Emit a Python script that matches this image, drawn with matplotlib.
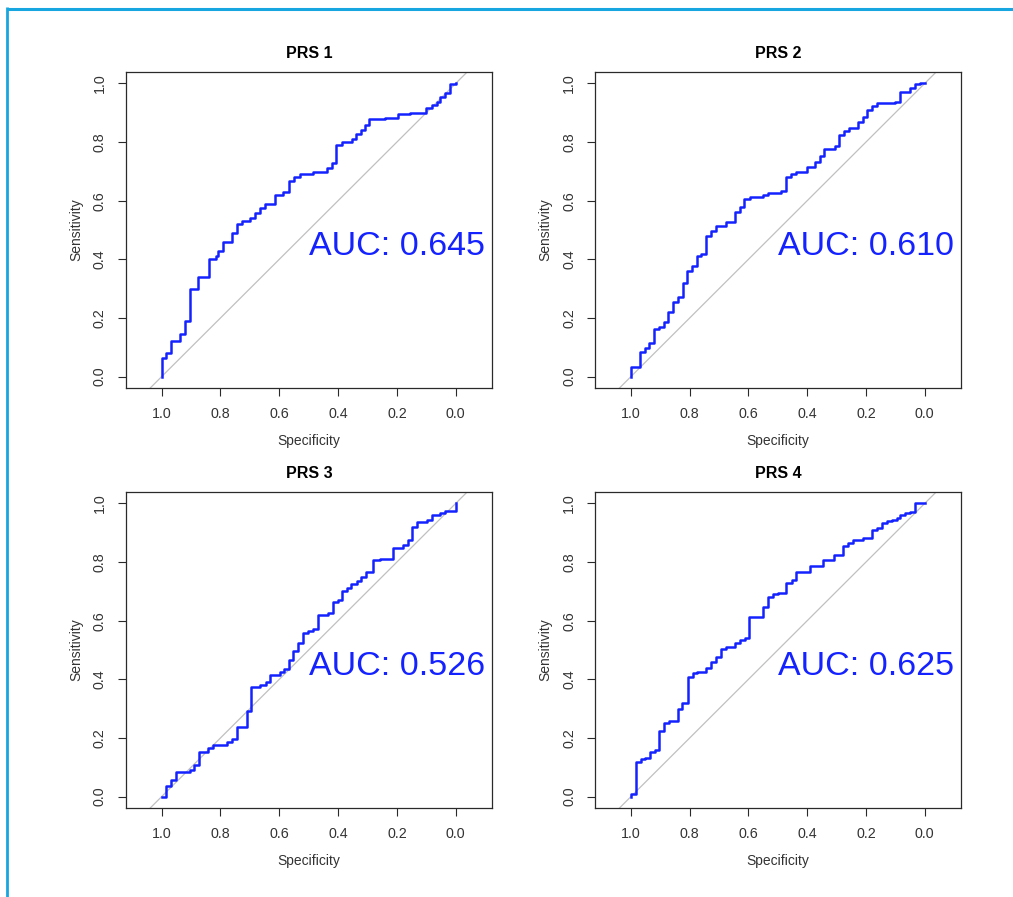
import matplotlib
matplotlib.use("Agg")
import matplotlib.pyplot as plt
from matplotlib.lines import Line2D

plt.rcParams['font.family'] = ['Liberation Sans', 'DejaVu Sans']

titles = ["PRS 1", "PRS 2", "PRS 3", "PRS 4"]
auc_values = [0.645, 0.610, 0.526, 0.625]
tick_values = [1.0, 0.8, 0.6, 0.4, 0.2, 0.0]
tick_labels = ["1.0", "0.8", "0.6", "0.4", "0.2", "0.0"]

spec1 = [1.0, 1.0, 0.985, 0.968, 0.938, 0.921, 0.904, 0.878, 0.839, 0.815, 0.807, 0.79, 0.762,
         0.745, 0.728, 0.70, 0.683, 0.666, 0.649, 0.615, 0.586, 0.566, 0.549, 0.53, 0.484, 0.439,
         0.42, 0.407, 0.388, 0.354, 0.339, 0.323, 0.308, 0.294, 0.24, 0.197, 0.155, 0.10, 0.082,
         0.065, 0.053, 0.036, 0.019, 0.0]
sens1 = [0.0, 0.065, 0.08, 0.122, 0.145, 0.19, 0.30, 0.339, 0.40, 0.41, 0.43, 0.46, 0.49,
         0.52, 0.53, 0.54, 0.557, 0.576, 0.588, 0.62, 0.63, 0.668, 0.682, 0.69, 0.699, 0.71,
         0.73, 0.79, 0.799, 0.81, 0.827, 0.84, 0.858, 0.877, 0.883, 0.895, 0.90, 0.917, 0.926,
         0.9375, 0.952, 0.966, 0.998, 1.0]

spec2 = [1.0, 1.0, 0.969, 0.952, 0.938, 0.92, 0.904, 0.888, 0.873, 0.856, 0.839, 0.824, 0.808,
         0.791, 0.774, 0.76, 0.743, 0.726, 0.711, 0.677, 0.646, 0.629, 0.615, 0.595, 0.55, 0.533,
         0.488, 0.471, 0.454, 0.437, 0.402, 0.374, 0.357, 0.342, 0.306, 0.291, 0.274, 0.258,
         0.227, 0.21, 0.196, 0.178, 0.161, 0.102, 0.085, 0.051, 0.034, 0.017, 0.0]
sens2 = [0.0, 0.034, 0.085, 0.097, 0.114, 0.161, 0.17, 0.1875, 0.219, 0.256, 0.27, 0.32, 0.36,
         0.378, 0.41, 0.418, 0.48, 0.498, 0.514, 0.526, 0.56, 0.58, 0.605, 0.614, 0.62, 0.625,
         0.633, 0.682, 0.69, 0.697, 0.714, 0.731, 0.753, 0.778, 0.7875, 0.824, 0.8375, 0.849,
         0.867, 0.886, 0.911, 0.924, 0.932, 0.9375, 0.972, 0.985, 0.997, 1.0, 1.0]

spec3 = [1.0, 0.985, 0.968, 0.952, 0.903, 0.889, 0.872, 0.841, 0.824, 0.779, 0.762, 0.745,
         0.711, 0.696, 0.665, 0.645, 0.631, 0.597, 0.583, 0.566, 0.552, 0.535, 0.518, 0.501,
         0.484, 0.469, 0.433, 0.419, 0.402, 0.388, 0.371, 0.356, 0.337, 0.322, 0.305, 0.28,
         0.257, 0.212, 0.178, 0.161, 0.147, 0.133, 0.099, 0.082, 0.053, 0.036, 0.0]
sens3 = [0.0, 0.036, 0.057, 0.083, 0.091, 0.108, 0.151, 0.165, 0.176, 0.1875, 0.198, 0.239,
         0.293, 0.373, 0.38, 0.39, 0.415, 0.424, 0.435, 0.466, 0.498, 0.523, 0.557, 0.565,
         0.57, 0.619, 0.625, 0.665, 0.67, 0.70, 0.71, 0.725, 0.735, 0.75, 0.767, 0.807,
         0.81, 0.847, 0.858, 0.875, 0.92, 0.935, 0.943, 0.96, 0.966, 0.975, 1.0]

spec4 = [1.0, 1.0, 0.983, 0.966, 0.952, 0.935, 0.918, 0.904, 0.888, 0.87, 0.839, 0.825, 0.807,
         0.788, 0.774, 0.745, 0.726, 0.709, 0.694, 0.677, 0.646, 0.629, 0.612, 0.599, 0.55,
         0.533, 0.516, 0.499, 0.471, 0.452, 0.437, 0.392, 0.346, 0.309, 0.278, 0.261, 0.244,
         0.21, 0.181, 0.164, 0.147, 0.13, 0.113, 0.096, 0.085, 0.068, 0.051, 0.034, 0.0]
sens4 = [0.0, 0.008, 0.119, 0.128, 0.13, 0.153, 0.159, 0.222, 0.25, 0.259, 0.30, 0.318, 0.409,
         0.42, 0.426, 0.4375, 0.458, 0.477, 0.502, 0.511, 0.525, 0.534, 0.54, 0.611, 0.645,
         0.68, 0.69, 0.695, 0.727, 0.739, 0.766, 0.786, 0.807, 0.824, 0.855, 0.866, 0.875,
         0.883, 0.909, 0.915, 0.934, 0.94, 0.943, 0.949, 0.96, 0.966, 0.972, 1.0, 1.0]

specs = [spec1, spec2, spec3, spec4]
senss = [sens1, sens2, sens3, sens4]

W, H = 1013, 897
fig = plt.figure(figsize=(W / 100, H / 100), dpi=100)
fig.patch.set_facecolor('white')

# axes boxes in pixel coordinates (left, top, right, bottom)
boxes = [(125.7, 71.7, 492.0, 388.3), (595.0, 71.7, 961.0, 388.3),
         (125.7, 491.7, 492.0, 808.3), (595.0, 491.7, 961.0, 808.3)]

axcol = '#2a2a2a'
txtcol = '#333333'
blue = '#1422ff'
for i in range(4):
    l, t, r, b = boxes[i]
    ax = fig.add_axes([l / W, 1 - b / H, (r - l) / W, (b - t) / H])
    ax.set_xlim(1.1224, -0.1235)
    ax.set_ylim(-0.04, 1.04)
    ax.plot([-0.3, 1.3], [1.3, -0.3], color='#c0c0c0', lw=0.9, zorder=1)
    ax.step(specs[i], senss[i], where='post', color=blue, lw=1.8, zorder=3)
    ax.text(0.5, 0.415, "AUC: %.3f" % auc_values[i], color=blue, fontsize=24.5,
            ha='left', va='baseline', zorder=4)
    ax.set_xticks(tick_values)
    ax.set_xticklabels(tick_labels)
    ax.set_yticks(tick_values)
    ax.set_yticklabels(tick_labels, rotation=90, va='center')
    ax.tick_params(direction='out', length=6, width=0.8, color=axcol, labelcolor=txtcol,
                   labelsize=10.3, pad=7.5)
    ax.set_xlabel("Specificity", fontsize=10, color=txtcol, labelpad=9)
    ax.set_ylabel("Sensitivity", fontsize=10, color=txtcol, labelpad=7)
    ax.set_title(titles[i], fontsize=11.5, fontweight='bold', pad=10)
    for s in ax.spines.values():
        s.set_color(axcol)
        s.set_linewidth(0.9)

# light blue frame: top and left edges
frame_col = '#17a6e0'
fig.add_artist(Line2D([7.3 / W, 1.0], [1 - 8.8 / H, 1 - 8.8 / H], transform=fig.transFigure,
                      color=frame_col, lw=2.2, solid_capstyle='butt'))
fig.add_artist(Line2D([7.3 / W, 7.3 / W], [0.0, 1 - 7.3 / H], transform=fig.transFigure,
                      color=frame_col, lw=2.0, solid_capstyle='butt'))

fig.savefig("out.png", dpi=100, facecolor='white')
